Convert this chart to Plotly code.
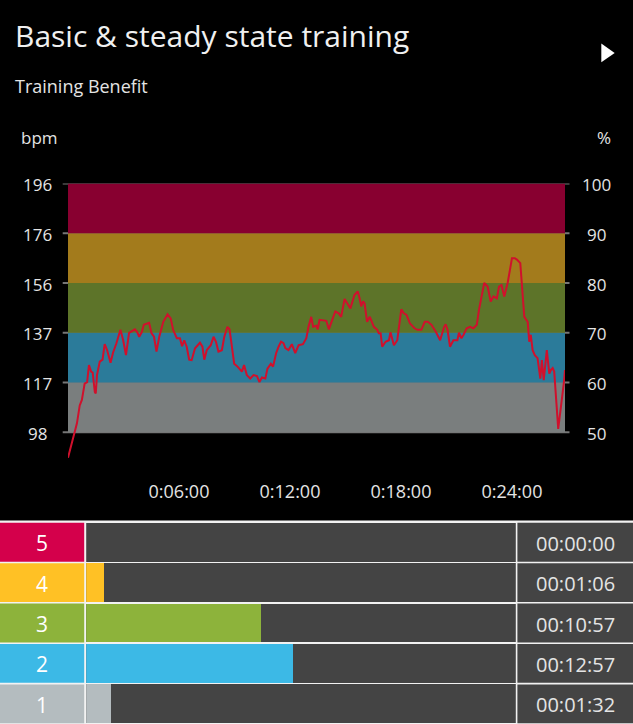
import plotly.graph_objects as go

W, H = 633, 724

# ---------------- text ----------------
title_text = "Basic & steady state training"
subtitle_text = "Training Benefit"
left_unit = "bpm"
right_unit = "%"

# ---------------- zone scale ----------------
pct_ticks = [50, 60, 70, 80, 90, 100]
bpm_ticks = [98, 117, 137, 156, 176, 196]
band_colors = ["#7a7e7e", "#2b7b9a", "#5d7429", "#a37b1c", "#880030"]  # zone 1..5

# ---------------- heart-rate series (seconds, % of max HR) ----------------
time_s = [0, 8, 19, 29, 38, 45, 54, 62, 68, 75, 80, 87, 90, 94, 103, 112, 119, 127, 138, 146,
          157, 170, 179, 188, 198, 209, 217, 224, 231, 239, 246, 263, 271, 279, 287, 296, 309, 323,
          333, 341, 353, 363, 370, 377, 385, 393, 401, 412, 428, 436, 442, 450, 463, 472, 480, 488,
          499, 507, 517, 524, 531, 539, 550, 564, 571, 580, 591, 602, 613, 621, 629, 640, 647, 658,
          665, 675, 683, 691, 699, 705, 715, 726, 737, 748, 762, 773, 780, 789, 795, 806, 810, 816,
          838, 846, 857, 867, 878, 886, 897, 905, 916, 929, 940, 946, 951, 957, 962, 970, 979, 992,
          1003, 1008, 1014, 1019, 1030, 1041, 1046, 1057, 1068, 1081, 1089, 1098, 1109, 1124, 1133,
          1146, 1157, 1167, 1179, 1193, 1207, 1220, 1225, 1231, 1239, 1250, 1263, 1268, 1276, 1283,
          1293, 1304, 1315, 1326, 1333, 1350, 1361, 1371, 1380, 1391, 1398, 1406, 1415, 1426, 1440,
          1449, 1456, 1467, 1480, 1491, 1496, 1501, 1507, 1514, 1523, 1532, 1537, 1543, 1547, 1553,
          1561, 1566, 1572, 1577, 1590, 1601, 1608, 1612]
hr_pct = [44.9, 46.7, 49.7, 51.8, 55.4, 56.5, 59.8, 60.1, 63.5, 62.2, 62.0, 58.1, 57.8, 61.5, 64.2,
          64.6, 67.7, 66.5, 64.0, 66.0, 67.9, 70.6, 68.5, 65.5, 70.0, 70.4, 70.7, 70.2, 69.2, 70.1,
          71.6, 72.0, 69.9, 69.2, 66.2, 69.2, 72.2, 73.7, 72.9, 70.6, 68.9, 68.9, 67.3, 68.5, 67.2,
          64.6, 64.5, 66.9, 68.0, 67.2, 64.6, 66.5, 67.5, 69.2, 68.2, 66.2, 66.5, 69.2, 71.2, 70.7,
          67.5, 63.8, 63.2, 62.2, 63.5, 61.5, 60.8, 61.5, 61.3, 60.1, 61.0, 60.8, 62.8, 63.8, 63.2,
          65.9, 67.2, 68.2, 67.9, 66.9, 66.5, 67.7, 65.9, 67.5, 67.7, 68.9, 71.2, 73.2, 71.2, 71.4,
          70.7, 72.6, 72.4, 70.7, 72.6, 74.3, 73.9, 73.2, 76.8, 75.9, 74.9, 77.6, 78.3, 76.9, 75.3,
          76.3, 75.9, 72.2, 73.2, 71.2, 70.6, 69.9, 69.9, 67.2, 68.2, 68.5, 70.1, 67.5, 68.5, 74.7,
          73.9, 73.6, 71.9, 70.9, 70.6, 70.6, 72.2, 72.2, 71.6, 70.2, 68.5, 71.2, 71.7, 70.6, 67.2,
          68.5, 68.5, 70.0, 68.9, 69.6, 70.9, 71.2, 70.9, 71.6, 74.6, 80.0, 79.3, 76.3, 77.3, 76.9,
          79.3, 79.6, 77.3, 80.0, 85.0, 85.0, 84.7, 84.0, 73.2, 72.2, 68.2, 69.6, 66.5, 65.5, 64.9,
          60.8, 64.5, 60.5, 62.5, 66.5, 61.8, 62.5, 62.9, 62.2, 50.7, 55.8, 59.8, 62.5]

total_s = 1612
x_tick_s = [360, 720, 1080, 1440]

# ---------------- zone summary ----------------
zones = [1, 2, 3, 4, 5]
zone_s = [92, 777, 657, 66, 0]
zone_colors = ["#b4bcbf", "#3cb9e6", "#8db33b", "#ffc125", "#d4004b"]


def fmt_short(s):
    return f"{s // 3600}:{(s % 3600) // 60:02d}:{s % 60:02d}"


def fmt_long(s):
    return f"{s // 3600:02d}:{(s % 3600) // 60:02d}:{s % 60:02d}"


def px(x):
    return x / W


def py(y):
    return 1 - y / H


FONT = "Open Sans"
TXT = "#e4e4e4"

# layout geometry (pixels)
plot_l, plot_r = 68.0, 565.0
top_px, p50_px = 183.5, 432.3
ppp = (p50_px - top_px) / (pct_ticks[-1] - pct_ticks[0])
y_min = 43.5
bottom_px = p50_px + (pct_ticks[0] - y_min) * ppp
table_top = 522.05
row_frac = 0.962

fig = go.Figure()

fig.add_trace(go.Scatter(
    x=time_s, y=hr_pct, mode="lines",
    line=dict(color="#d0102c", width=2),
    hoverinfo="skip", showlegend=False, xaxis="x", yaxis="y"))

fig.add_trace(go.Bar(
    y=zones, x=[total_s] * len(zones), orientation="h", base=0,
    marker=dict(color="#444444", line=dict(width=0)), width=row_frac,
    hoverinfo="skip", showlegend=False, xaxis="x2", yaxis="y2"))
fig.add_trace(go.Bar(
    y=zones, x=zone_s, orientation="h", base=0,
    marker=dict(color=zone_colors, line=dict(width=0)), width=row_frac,
    hoverinfo="skip", showlegend=False, xaxis="x2", yaxis="y2"))

shapes = []
# heart-rate zone bands
for i in range(len(band_colors)):
    shapes.append(dict(type="rect", xref="x", yref="y", x0=0, x1=total_s,
                       y0=pct_ticks[i], y1=pct_ticks[i + 1],
                       fillcolor=band_colors[i], line=dict(width=0), layer="below"))
# grid lines with tick stubs
for p in pct_ticks:
    shapes.append(dict(type="line", xref="paper", yref="y", x0=px(62.7), x1=px(569.5),
                       y0=p, y1=p, line=dict(color="#767676", width=2), layer="below"))
# table background (white separators)
shapes.append(dict(type="rect", xref="paper", yref="paper", x0=0, x1=1, y0=-0.01, y1=py(520.6),
                   fillcolor="#f2f2f2", line=dict(width=0), layer="below"))
for z, c in zip(zones, zone_colors):
    h = row_frac / 2
    shapes.append(dict(type="rect", xref="paper", yref="y2", x0=0, x1=px(84.2),
                       y0=z - h, y1=z + h, fillcolor=c, line=dict(width=0), layer="below"))
    shapes.append(dict(type="rect", xref="paper", yref="y2", x0=px(517.4), x1=1.01,
                       y0=z - h, y1=z + h, fillcolor="#444444", line=dict(width=0), layer="below"))
# play icon
tri = f"M {px(601.3)} {py(43.5)} L {px(614.7)} {py(52.9)} L {px(601.3)} {py(62.3)} Z"
shapes.append(dict(type="path", xref="paper", yref="paper", path=tri,
                   fillcolor="#ffffff", line=dict(width=0)))

ann = []
ann.append(dict(text=title_text, xref="paper", yref="paper", x=px(12.5), y=py(35.3),
                xanchor="left", yanchor="middle", showarrow=False,
                font=dict(family=FONT, size=30, color="#f0f0f0")))
ann.append(dict(text=subtitle_text, xref="paper", yref="paper", x=px(13), y=py(85.5),
                xanchor="left", yanchor="middle", showarrow=False,
                font=dict(family=FONT, size=18, color=TXT)))
ann.append(dict(text=left_unit, xref="paper", yref="paper", x=px(39.5), y=py(137),
                xanchor="center", yanchor="middle", showarrow=False,
                font=dict(family=FONT, size=17, color=TXT)))
ann.append(dict(text=right_unit, xref="paper", yref="paper", x=px(604), y=py(137),
                xanchor="center", yanchor="middle", showarrow=False,
                font=dict(family=FONT, size=17, color=TXT)))
for p, b in zip(pct_ticks, bpm_ticks):
    ann.append(dict(text=str(b), xref="paper", yref="y", x=px(37), y=p, yshift=-1,
                    xanchor="center", yanchor="middle", showarrow=False,
                    font=dict(family=FONT, size=17, color=TXT)))
    ann.append(dict(text=str(p), xref="paper", yref="y", x=px(596), y=p, yshift=-1,
                    xanchor="center", yanchor="middle", showarrow=False,
                    font=dict(family=FONT, size=17, color=TXT)))
for z, s in zip(zones, zone_s):
    ann.append(dict(text=str(z), xref="paper", yref="y2", x=px(42), y=z, yshift=-1,
                    xanchor="center", yanchor="middle", showarrow=False,
                    font=dict(family=FONT, size=21, color="#ffffff")))
    ann.append(dict(text=fmt_long(s), xref="paper", yref="y2", x=px(575), y=z, yshift=-1,
                    xanchor="center", yanchor="middle", showarrow=False,
                    font=dict(family=FONT, size=20, color=TXT)))

fig.update_layout(
    width=W, height=H, autosize=False,
    margin=dict(l=0, r=0, t=0, b=0, pad=0),
    paper_bgcolor="#000000", plot_bgcolor="#000000",
    barmode="overlay", bargap=0,
    showlegend=False,
    xaxis=dict(domain=[px(plot_l), px(plot_r)], range=[0, total_s],
               tickvals=x_tick_s, ticktext=[fmt_short(t) for t in x_tick_s],
               tickfont=dict(family=FONT, size=18, color=TXT),
               showgrid=False, zeroline=False, showline=False, ticks="",
               ticklabelstandoff=14, anchor="y", fixedrange=True),
    yaxis=dict(domain=[py(bottom_px), py(top_px)], range=[y_min, pct_ticks[-1]],
               showgrid=False, zeroline=False, showline=False, showticklabels=False,
               ticks="", anchor="x", fixedrange=True),
    xaxis2=dict(domain=[px(86.2), px(515.8)], range=[0, total_s], visible=False,
                anchor="y2", fixedrange=True),
    yaxis2=dict(domain=[0, py(table_top)], range=[0.5, 5.5], visible=False,
                anchor="x2", fixedrange=True),
    shapes=shapes, annotations=ann,
)

fig.write_html("out.html", config={"displayModeBar": False})
